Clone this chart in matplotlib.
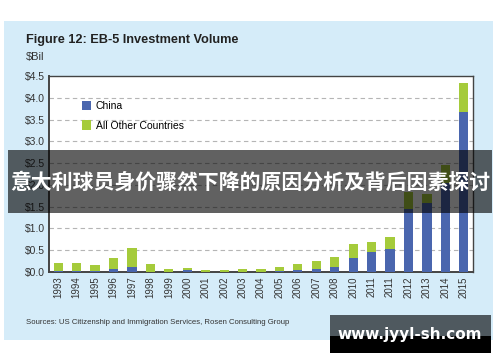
import matplotlib.pyplot as plt
import numpy as np
from matplotlib import font_manager
from matplotlib.patches import Rectangle

# values ($ billions)
years = ["1993", "1994", "1995", "1996", "1997", "1998", "1999", "2000",
         "2001", "2002", "2003", "2004", "2005", "2006", "2007", "2008",
         "2010", "2011", "2011", "2012", "2013", "2014", "2015"]
china = [0.03, 0.03, 0.03, 0.07, 0.12, 0.01, 0.01, 0.04,
         0.01, 0.01, 0.01, 0.01, 0.02, 0.04, 0.08, 0.12,
         0.31, 0.47, 0.53, 1.44, 1.59, 2.05, 3.68]
other = [0.18, 0.18, 0.12, 0.24, 0.44, 0.17, 0.07, 0.06,
         0.04, 0.04, 0.06, 0.07, 0.09, 0.14, 0.18, 0.23,
         0.33, 0.23, 0.28, 0.39, 0.21, 0.40, 0.66]
ytick_values = [0.0, 0.5, 1.0, 1.5, 2.0, 2.5, 3.0, 3.5, 4.0, 4.5]

BLUE = "#4a66ae"
GREEN = "#a5cb3b"
PANEL = "#d5ecf9"
W, H = 500, 362

installed = {f.name for f in font_manager.fontManager.ttflist}
NARROW = "Liberation Sans Narrow" if "Liberation Sans Narrow" in installed else "Liberation Sans"
narrow_size = 1.0 if NARROW == "Liberation Sans Narrow" else 0.93


def fx(px):
    return px / W


def fy(py):
    return 1 - py / H


fig = plt.figure(figsize=(5, 3.62), dpi=100)
fig.patch.set_facecolor("white")
fig.patches.append(Rectangle((fx(4), fy(340)), fx(489), 319 / H, lw=0,
                             transform=fig.transFigure, color=PANEL, zorder=-1))

ax = fig.add_axes([fx(49), fy(272), fx(424), 196 / H])
x = np.arange(len(years))
ax.bar(x, china, width=0.5, color=BLUE, label="China", zorder=3)
ax.bar(x, other, width=0.5, bottom=china, color=GREEN,
       label="All Other Countries", zorder=3)

ax.set_xlim(-0.5, len(years) - 0.5)
ax.set_ylim(0, 4.5)
ax.set_yticks(ytick_values)
ax.set_yticklabels([f"${v:.1f}" for v in ytick_values], fontsize=8 * narrow_size,
                   color="#333333", family=NARROW)
ax.set_xticks(x)
ax.set_xticklabels(years, rotation=90, fontsize=7.5 * narrow_size,
                   color="#333333", family=NARROW)
ax.tick_params(length=0, pad=3)
for v in ytick_values[1:-1]:
    ax.axhline(v, color="#b5b5b5", lw=0.8, ls=(0, (4, 3)), zorder=1)
for side in ax.spines.values():
    side.set_color("#444444")
    side.set_linewidth(1.0)
ax.spines["left"].set_linewidth(1.4)
ax.spines["bottom"].set_linewidth(1.4)

ax.legend(loc="upper left", bbox_to_anchor=(0.077, 0.875), frameon=False,
          prop={"family": NARROW, "size": 8 * narrow_size},
          handlelength=0.9, handleheight=1.0, labelspacing=0.95,
          handletextpad=0.45, borderpad=0, borderaxespad=0)

fig.text(fx(26), fy(40), "Figure 12: EB-5 Investment Volume", fontsize=9.2,
         fontweight="bold", family="Liberation Sans", color="#222222", va="center")
fig.text(fx(26), fy(57), "$Bil", fontsize=8, color="#333333", va="center",
         family="Liberation Sans")
fig.text(fx(26), fy(322), "Sources: US Citizenship and Immigration Services, "
         "Rosen Consulting Group", fontsize=6.0 * narrow_size, color="#333333",
         va="center", family=NARROW)

# overlay banner
fig.patches.append(Rectangle((fx(8), fy(213)), fx(484), 63 / H, lw=0,
                             transform=fig.transFigure, color="black",
                             alpha=0.62, zorder=10))
fig.text(fx(250), fy(182), "意大利球员身价骤然下降的原因分析及背后因素探讨",
         fontsize=15, fontweight="bold", color="white", ha="center", va="center",
         family=["Noto Sans CJK SC", "DejaVu Sans"], zorder=11)

# watermark box
fig.patches.append(Rectangle((fx(330), fy(336)), fx(161), 21 / H, lw=0,
                             transform=fig.transFigure, color="#4f595f", zorder=10))
fig.patches.append(Rectangle((fx(330), fy(353)), fx(161), 17 / H, lw=0,
                             transform=fig.transFigure, color="black", zorder=10))
fig.text(fx(410), fy(334), "www.jyyl-sh.com", fontsize=11, fontweight="bold",
         color="white", ha="center", va="center", family="DejaVu Sans", zorder=11)

fig.savefig("out.png", dpi=100)
